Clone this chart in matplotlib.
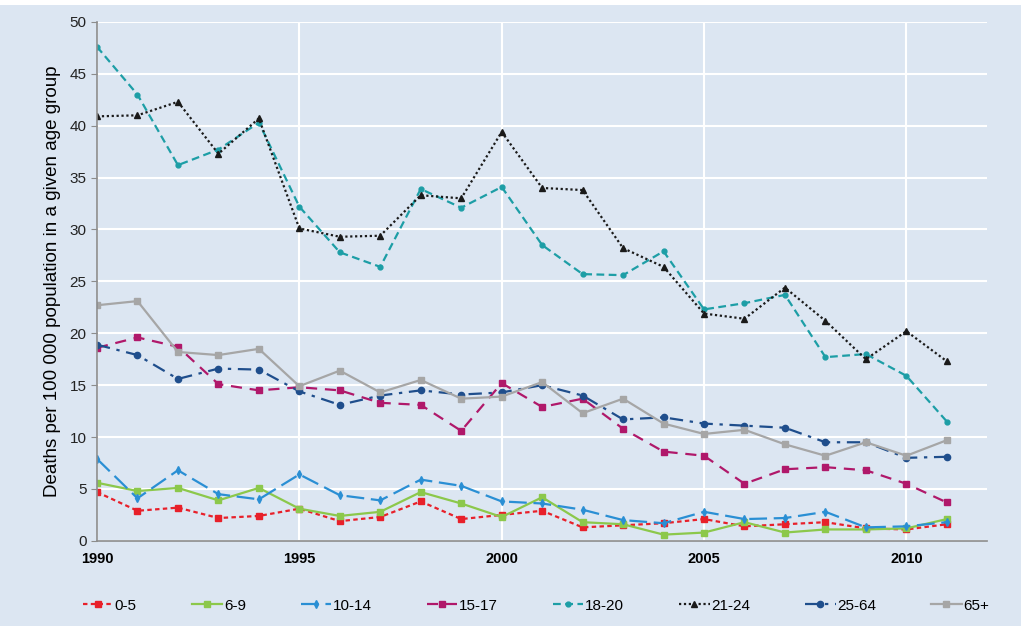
import numpy as np
import matplotlib.pyplot as plt
from matplotlib.patches import Rectangle

years = list(range(1990, 2012))

age_0_5 = [4.7, 2.9, 3.2, 2.2, 2.4, 3.1, 1.9, 2.3, 3.8, 2.1, 2.5,
           2.9, 1.3, 1.5, 1.7, 2.1, 1.4, 1.6, 1.8, 1.2, 1.1, 1.6]
age_6_9 = [5.6, 4.8, 5.1, 3.9, 5.1, 3.1, 2.4, 2.8, 4.7, 3.6, 2.3,
           4.2, 1.8, 1.6, 0.6, 0.8, 1.8, 0.8, 1.1, 1.1, 1.2, 2.1]
age_10_14 = [7.9, 4.1, 6.8, 4.5, 4.0, 6.4, 4.4, 3.9, 5.9, 5.3, 3.8,
             3.6, 3.0, 2.0, 1.7, 2.8, 2.1, 2.2, 2.8, 1.3, 1.4, 1.8]
age_15_17 = [18.6, 19.6, 18.7, 15.1, 14.5, 14.8, 14.5, 13.3, 13.1, 10.6, 15.2,
             12.9, 13.7, 10.8, 8.6, 8.2, 5.5, 6.9, 7.1, 6.8, 5.5, 3.7]
age_18_20 = [47.6, 43.0, 36.2, 37.7, 40.3, 32.2, 27.8, 26.4, 33.9, 32.1, 34.1,
             28.5, 25.7, 25.6, 27.9, 22.3, 22.9, 23.7, 17.7, 18.0, 15.9, 11.5]
age_21_24 = [40.9, 41.0, 42.3, 37.3, 40.7, 30.1, 29.3, 29.4, 33.3, 33.0, 39.4,
             34.0, 33.8, 28.2, 26.4, 21.9, 21.4, 24.4, 21.2, 17.5, 20.2, 17.3]
age_25_64 = [18.9, 17.9, 15.6, 16.6, 16.5, 14.4, 13.1, 14.0, 14.5, 14.1, 14.3,
             15.0, 14.0, 11.7, 11.9, 11.3, 11.1, 10.9, 9.5, 9.5, 8.0, 8.1]
age_65 = [22.7, 23.1, 18.2, 17.9, 18.5, 14.9, 16.4, 14.3, 15.5, 13.7, 13.9,
          15.3, 12.3, 13.7, 11.3, 10.3, 10.7, 9.3, 8.2, 9.5, 8.2, 9.7]

labels = ['0-5', '6-9', '10-14', '15-17', '18-20', '21-24', '25-64', '65+']

bg = '#dce6f2'
plt.rcParams['font.family'] = ['Liberation Sans', 'DejaVu Sans']

fig = plt.figure(figsize=(10.21, 6.26), dpi=100)
fig.patch.set_facecolor('white')
fig.patches.append(Rectangle((0, 0), 1, 0.992, transform=fig.transFigure,
                             facecolor=bg, edgecolor='none', zorder=-10))
ax = fig.add_axes([0.095, 0.136, 0.872, 0.829])
ax.set_facecolor(bg)

lw = 1.6
ax.plot(years, age_0_5, color='#e8202a', linestyle=(0, (2, 1.5)), marker='s', markersize=4.5, lw=lw, label=labels[0])
ax.plot(years, age_6_9, color='#8cc84b', linestyle='-', marker='s', markersize=4, lw=lw, label=labels[1])
ax.plot(years, age_10_14, color='#2a8fd4', linestyle=(0, (8, 3)), marker='d', markersize=4, lw=lw, label=labels[2])
ax.plot(years, age_15_17, color='#b0186a', linestyle=(0, (5, 3.5)), marker='s', markersize=5, lw=lw, label=labels[3])
ax.plot(years, age_18_20, color='#1d9ea6', linestyle=(0, (3.5, 2)), marker='o', markersize=3.5, lw=lw, label=labels[4])
ax.plot(years, age_21_24, color='#1a1a1a', linestyle=(0, (1, 1.2)), marker='^', markersize=5, lw=lw, label=labels[5])
ax.plot(years, age_25_64, color='#1f4e8c', linestyle=(0, (6, 3, 1.5, 3)), marker='o', markersize=4.5, lw=lw, label=labels[6])
ax.plot(years, age_65, color='#a6a6a6', linestyle='-', marker='s', markersize=5, lw=lw, label=labels[7])

ax.set_xlim(1990, 2012)
ax.set_ylim(0, 50)
ax.set_xticks([1990, 1995, 2000, 2005, 2010])
ax.set_yticks(np.arange(0, 51, 5))
ax.grid(True, color='white', lw=1.5, zorder=0)
ax.set_axisbelow(True)

for s in ['top', 'right']:
    ax.spines[s].set_visible(False)
for s in ['left', 'bottom']:
    ax.spines[s].set_color('#8c8c8c')
    ax.spines[s].set_linewidth(1.2)

ax.tick_params(axis='y', colors='#8c8c8c', labelcolor='#222222', labelsize=11, length=4)
ax.tick_params(axis='x', length=0, labelsize=10.5, pad=8)
for t in ax.get_xticklabels():
    t.set_fontweight('bold')

ax.set_ylabel('Deaths per 100 000 population in a given age group', fontsize=13.5, labelpad=6)

ax.legend(loc='upper center', bbox_to_anchor=(0.493, -0.085), ncol=8, frameon=False,
          fontsize=11, handlelength=2.0, columnspacing=3.6, handletextpad=0.1)

fig.savefig('out.png', dpi=100, facecolor=fig.get_facecolor())
